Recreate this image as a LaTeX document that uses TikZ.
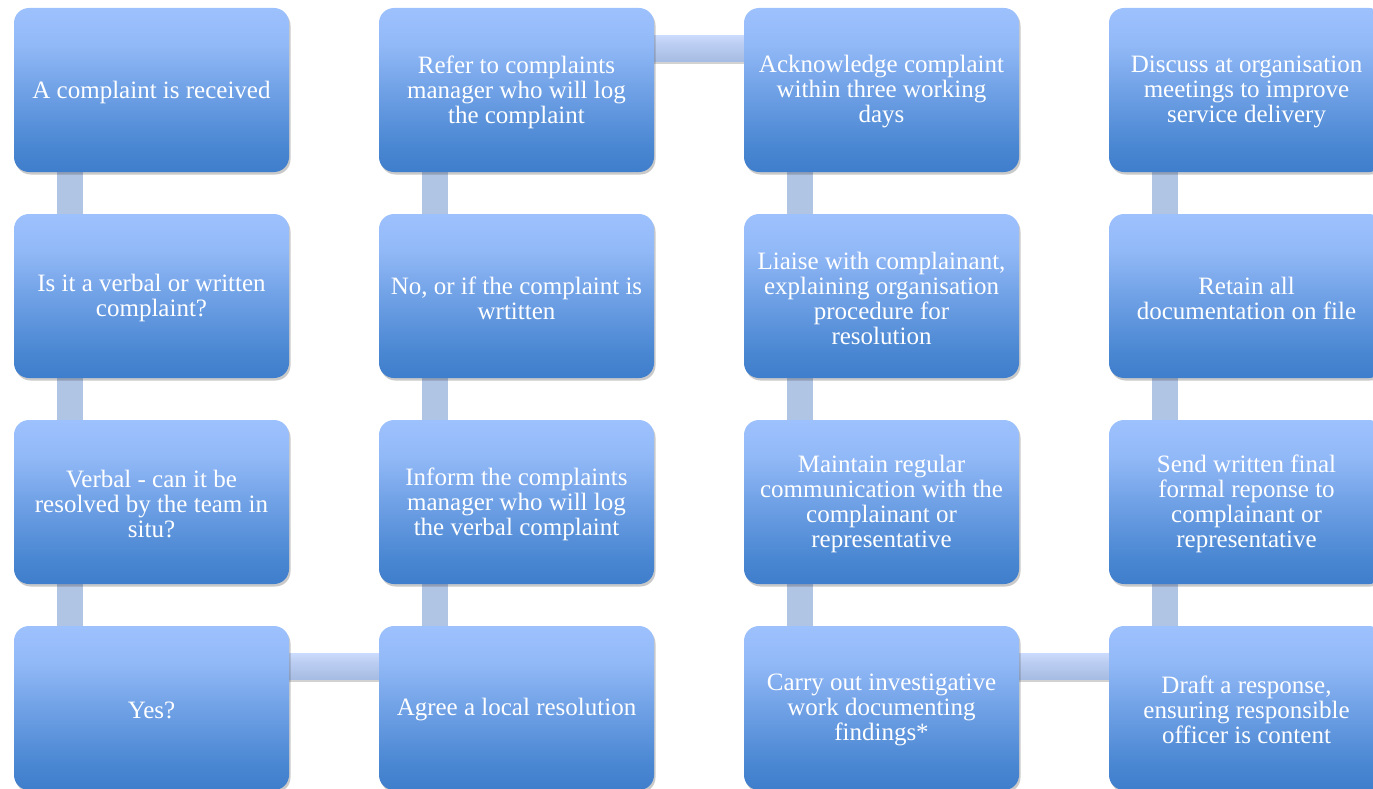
\documentclass[tikz,border=0pt]{standalone}
\usepackage{fontspec}
\setmainfont{Liberation Serif}
\usetikzlibrary{shadows,backgrounds}
\definecolor{btop}{RGB}{157,193,253}
\definecolor{btopb}{RGB}{146,185,247}
\definecolor{bmid}{RGB}{112,161,230}
\definecolor{bbotb}{RGB}{74,135,210}
\definecolor{bbot}{RGB}{63,126,204}
\definecolor{vconn}{RGB}{176,196,228}
\definecolor{htop}{RGB}{202,218,252}
\definecolor{hbot}{RGB}{166,187,226}
\pgfdeclareverticalshading{boxgrad}{100bp}{color(0bp)=(bbot); color(25bp)=(bbot); color(33bp)=(bbotb); color(50bp)=(bmid); color(64bp)=(btopb); color(75bp)=(btop); color(100bp)=(btop)}
\pgfdeclareverticalshading{hgrad}{100bp}{color(0bp)=(hbot); color(25bp)=(hbot); color(60bp)=(htop!60!hbot); color(75bp)=(htop); color(100bp)=(htop)}
\tikzset{
  stepbox/.style={rectangle, rounded corners=15pt, minimum width=275pt, minimum height=164pt,
    inner sep=0pt, shading=boxgrad,
    drop shadow={shadow xshift=1.5pt, shadow yshift=-2.5pt, opacity=0.3, fill=black!70}},
  steptext/.style={text=white, align=center, inner sep=0pt, font=\fontsize{25}{25}\selectfont},
  vlink/.style={fill=vconn},
  hlink/.style={shading=hgrad, drop shadow={shadow xshift=0pt, shadow yshift=-2pt, opacity=0.25, fill=black!70}}
}
\newcommand{\stepnode}[4]{%
  \node[stepbox] (n#1) at (#2,#3) {};
  \node[steptext] (t#1) at ([yshift=-2pt]n#1.center) {#4};
}
\begin{document}
\begin{tikzpicture}[x=1pt,y=-1pt]
\useasboundingbox (0,0) rectangle (1373,789);
\clip (0,0) rectangle (1373,789);
% row 1
\stepnode{11}{151.5}{90}{A complaint is received}
\stepnode{12}{516.5}{90}{Refer to complaints\\manager who will log\\the complaint}
\stepnode{13}{881.5}{90}{Acknowledge complaint\\within three working\\days}
\stepnode{14}{1246.5}{90}{Discuss at organisation\\meetings to improve\\service delivery}
% row 2
\stepnode{21}{151.5}{296}{Is it a verbal or written\\complaint?}
\stepnode{22}{516.5}{296}{No, or if the complaint is\\wrtitten}
\stepnode{23}{881.5}{296}{Liaise with complainant,\\explaining organisation\\procedure for\\resolution}
\stepnode{24}{1246.5}{296}{Retain all\\documentation on file}
% row 3
\stepnode{31}{151.5}{502}{Verbal - can it be\\resolved by the team in\\situ?}
\stepnode{32}{516.5}{502}{Inform the complaints\\manager who will log\\the verbal complaint}
\stepnode{33}{881.5}{502}{Maintain regular\\communication with the\\complainant or\\representative}
\stepnode{34}{1246.5}{502}{Send written final\\formal reponse to\\complainant or\\representative}
% row 4
\stepnode{41}{151.5}{708}{Yes?}
\stepnode{42}{516.5}{708}{Agree a local resolution}
\stepnode{43}{881.5}{708}{Carry out investigative\\work documenting\\findings*}
\stepnode{44}{1246.5}{708}{Draft a response,\\ensuring responsible\\officer is content}
\begin{scope}[on background layer]
% vertical links
\foreach \c in {1,2,3,4}{
  \fill[vlink] ([xshift=43pt]n1\c.south west) rectangle ([xshift=69pt]n2\c.north west);
  \fill[vlink] ([xshift=43pt]n2\c.south west) rectangle ([xshift=69pt]n3\c.north west);
  \fill[vlink] ([xshift=43pt]n3\c.south west) rectangle ([xshift=69pt]n4\c.north west);
}
% horizontal links
\path[hlink] ([yshift=-28pt]n41.north east) rectangle ([yshift=-54pt]n42.north west);
\path[hlink] ([yshift=-28pt]n12.north east) rectangle ([yshift=-54pt]n13.north west);
\path[hlink] ([yshift=-28pt]n43.north east) rectangle ([yshift=-54pt]n44.north west);
\end{scope}
\end{tikzpicture}
\end{document}
